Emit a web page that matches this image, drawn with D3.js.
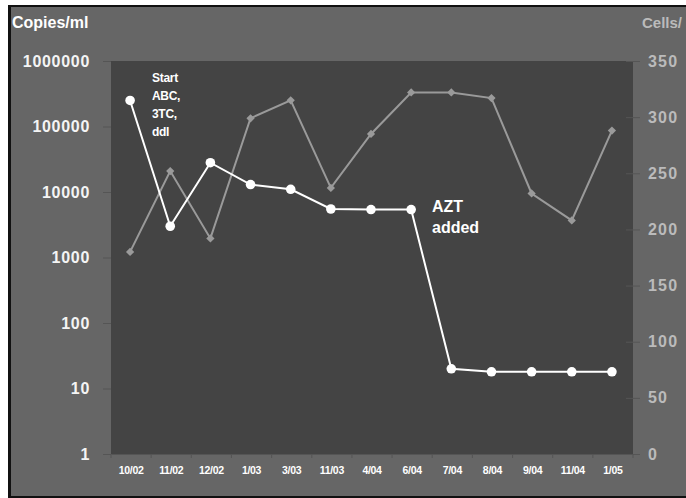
<!DOCTYPE html>
<html><head><meta charset="utf-8">
<script src="https://cdn.jsdelivr.net/npm/d3@7"></script>
<style>
html,body{margin:0;padding:0;background:#fff;}
svg{display:block;}
text{font-family:Arial,"Liberation Sans",sans-serif;font-weight:bold;}
</style></head>
<body>
<script>
const categories = ["10/02","11/02","12/02","1/03","3/03","11/03","4/04","6/04","7/04","8/04","9/04","11/04","1/05"];
const viralLoad = [250000,3000,28000,13000,11000,5500,5400,5400,20,18,18,18,18];
const cd4Cells = [180,252,192,299,315,237,285,322,322,317,232,208,288];
const leftTicks = [1,10,100,1000,10000,100000,1000000];
const rightTicks = [0,50,100,150,200,250,300,350];

const W = 686, H = 498;
const L = 111, R = 633, T = 61, B = 454;

const svg = d3.select("body").append("svg").attr("width", W).attr("height", H);

// frame
svg.append("rect").attr("x",0).attr("y",0).attr("width",W).attr("height",H).attr("fill","#fff");
svg.append("rect").attr("x",8).attr("y",5).attr("width",W-8).attr("height",H-5).attr("fill","#111");
svg.append("rect").attr("x",11).attr("y",7).attr("width",W-11).attr("height",H-9).attr("fill","#666");
svg.append("rect").attr("x",L).attr("y",T).attr("width",R-L).attr("height",B-T).attr("fill","#444");

const x = d3.scaleBand().domain(categories).range([L,R]);
const yL = d3.scaleLog().domain([1,1000000]).range([B,T]);
const yR = d3.scaleLinear().domain([0,350]).range([B,T]);
const cx = d => x(d) + x.bandwidth()/2 - 1;

// left axis
const gL = svg.append("g").attr("transform",`translate(${L},0)`)
  .call(d3.axisLeft(yL).tickValues(leftTicks).tickFormat(d3.format("d")).tickSize(8).tickPadding(13));
gL.select(".domain").remove();
gL.selectAll(".tick line").attr("stroke","#555").attr("stroke-width",1);
gL.selectAll(".tick text").attr("fill","#f4f4f4").attr("font-size",16).attr("letter-spacing","0.7px")
  .attr("font-family","Arial, 'Liberation Sans', sans-serif").attr("font-weight","bold");

// right axis
const gR = svg.append("g").attr("transform",`translate(${R},0)`)
  .call(d3.axisRight(yR).tickValues(rightTicks).tickSize(7).tickPadding(8));
gR.select(".domain").remove();
gR.selectAll(".tick line").attr("stroke","#555").attr("x1",-7);
gR.selectAll(".tick text").attr("fill","#bbb").attr("font-size",16).attr("letter-spacing","1.2px")
  .attr("font-family","Arial, 'Liberation Sans', sans-serif").attr("font-weight","bold");

// bottom axis
const gB = svg.append("g").attr("transform",`translate(0,${B})`)
  .call(d3.axisBottom(x).tickSize(0).tickPadding(13));
gB.select(".domain").attr("stroke","#555");
gB.selectAll(".tick text").attr("fill","#fff").attr("font-size",10.5).attr("letter-spacing","-0.3px")
  .attr("font-family","Arial, 'Liberation Sans', sans-serif").attr("font-weight","bold");
const bounds = categories.map(c => x(c)).concat([R]);
svg.append("g").selectAll("line").data(bounds).join("line")
  .attr("x1",d=>d).attr("x2",d=>d).attr("y1",B).attr("y2",B+4).attr("stroke","#555");

// titles
svg.append("text").attr("x",12).attr("y",28).attr("fill","#fff").attr("font-size",16).text("Copies/ml");
svg.append("text").attr("x",642).attr("y",28).attr("fill","#bbb").attr("font-size",15).text("Cells/");

// CD4 series (gray diamonds)
svg.append("path").datum(cd4Cells)
  .attr("fill","none").attr("stroke","#9a9a9a").attr("stroke-width",2)
  .attr("d", d3.line().x((d,i)=>cx(categories[i])).y(d=>yR(d)));
svg.append("g").selectAll("path").data(cd4Cells).join("path")
  .attr("d", d3.symbol().type(d3.symbolSquare).size(34))
  .attr("transform",(d,i)=>`translate(${cx(categories[i])},${yR(d)}) rotate(45)`)
  .attr("fill","#9a9a9a");

// viral load series (white circles)
svg.append("path").datum(viralLoad)
  .attr("fill","none").attr("stroke","#fff").attr("stroke-width",2)
  .attr("d", d3.line().x((d,i)=>cx(categories[i])).y(d=>yL(d)));
svg.append("g").selectAll("circle").data(viralLoad).join("circle")
  .attr("cx",(d,i)=>cx(categories[i])).attr("cy",d=>yL(d)).attr("r",4.8).attr("fill","#fff");

// annotations
const ann1 = ["Start","ABC,","3TC,","ddI"];
svg.append("g").selectAll("text").data(ann1).join("text")
  .attr("x",152).attr("y",(d,i)=>82+i*18).attr("fill","#fff").attr("font-size",12).attr("letter-spacing","-0.3px").text(d=>d);
const ann2 = ["AZT","added"];
svg.append("g").selectAll("text").data(ann2).join("text")
  .attr("x",432).attr("y",(d,i)=>212+i*21).attr("fill","#fff").attr("font-size",16).text(d=>d);
</script>
</body></html>
